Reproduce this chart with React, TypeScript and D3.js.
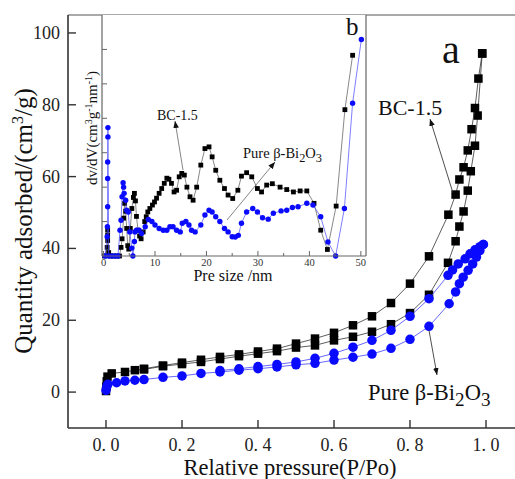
import React, { useEffect, useRef } from 'react';
import * as d3 from 'd3';

// N2 isotherm, BC-1.5 (adsorption / desorption branch)
const bcAdsP = [0, 0.001, 0.002, 0.004, 0.015, 0.05, 0.076, 0.1, 0.15, 0.2, 0.25, 0.3, 0.35, 0.4, 0.45, 0.5, 0.55, 0.6, 0.65, 0.7, 0.75, 0.8, 0.85, 0.9, 0.92, 0.93, 0.941, 0.952, 0.96, 0.971, 0.978, 0.99];
const bcAdsQ = [0.3, 1.5, 3, 4.3, 5.2, 5.6, 6.1, 6.3, 7.2, 7.8, 8.4, 9.2, 10, 10.7, 11.4, 12.4, 13, 14.4, 15.4, 16.8, 18.9, 22, 27.1, 36, 42, 46.1, 50.3, 56.1, 61.5, 68.6, 77, 94.3];
const bcDesP = [0.99, 0.98, 0.971, 0.962, 0.952, 0.941, 0.93, 0.92, 0.901, 0.85, 0.8, 0.75, 0.7, 0.65, 0.6, 0.55, 0.5, 0.45, 0.4, 0.35, 0.3, 0.25, 0.2, 0.15, 0.1];
const bcDesQ = [94.3, 87.3, 79.1, 73.2, 67.3, 62.6, 59.2, 55, 49.4, 37.8, 30.2, 24.8, 21.1, 18.6, 16.5, 14.9, 13.5, 12.1, 11.3, 10.5, 9.8, 9.0, 8.2, 7.4, 6.5];

// N2 isotherm, pure beta-Bi2O3
const biAdsP = [0, 0.002, 0.005, 0.028, 0.05, 0.076, 0.1, 0.15, 0.2, 0.25, 0.3, 0.35, 0.4, 0.45, 0.5, 0.55, 0.6, 0.65, 0.7, 0.75, 0.8, 0.85, 0.903, 0.92, 0.93, 0.94, 0.953, 0.965, 0.975, 0.984, 0.993];
const biAdsQ = [0.5, 1.5, 2.2, 2.6, 3.1, 3.3, 3.5, 4.1, 4.5, 5.2, 5.6, 6.1, 6.5, 7.0, 7.6, 8.0, 8.9, 9.7, 10.6, 12.2, 14.7, 18.3, 24.6, 27.9, 30.2, 32, 33.9, 35.7, 37.6, 39.4, 41.1];
const biDesP = [0.993, 0.984, 0.971, 0.958, 0.945, 0.927, 0.912, 0.9, 0.85, 0.8, 0.75, 0.7, 0.65, 0.6, 0.55, 0.5, 0.45, 0.4, 0.35, 0.3];
const biDesQ = [41.1, 40.5, 39.6, 38.5, 37.1, 35.7, 34, 32.5, 26, 21.1, 17.2, 14.4, 12.5, 10.8, 9.4, 8.4, 7.7, 7.1, 6.5, 6.0];

// pore size distribution (inset b)
const bcSize = [0.2, 0.7, 0.8, 0.8, 0.8, 1.0, 1.4, 2.0, 2.6, 3.1, 3.4, 3.6, 3.9, 4.1, 4.3, 4.5, 4.7, 4.9, 5.2, 5.5, 5.8, 6.0, 6.2, 6.4, 6.7, 7.0, 7.3, 7.7, 8.0, 8.3, 8.6, 9.0, 9.5, 9.9, 10.3, 10.8, 11.3, 11.8, 12.3, 12.7, 13.2, 13.7, 14.2, 14.7, 15.2, 15.7, 16.2, 16.8, 17.4, 18.1, 18.9, 19.7, 20.5, 21.1, 21.8, 22.6, 23.5, 24.2, 25.1, 26.1, 26.8, 27.8, 28.8, 29.9, 30.7, 31.7, 32.8, 34.3, 35.6, 36.9, 38.2, 39.5, 40.9, 42.2, 43.5, 45.2, 46.9, 48.4];
const bcDv = [0, 0.25, 0.45, 0.6, 0.75, 0.1, 0, 0, 0, 0, 0.25, 0.5, 1.1, 1.53, 1.3, 0.8, 0.3, 0.2, 0.8, 1.38, 1.7, 1.82, 1.6, 1.15, 0.75, 0.58, 0.5, 0.7, 1.0, 1.14, 1.28, 1.38, 1.48, 1.57, 1.68, 1.82, 1.96, 2.11, 2.26, 2.23, 2.11, 1.86, 1.91, 2.3, 2.4, 2.35, 2.0, 1.72, 1.62, 2.0, 2.64, 3.12, 3.17, 2.88, 2.49, 2.2, 1.96, 1.77, 1.67, 1.91, 2.32, 2.42, 2.3, 1.96, 1.86, 2.06, 2.1, 2.0, 1.93, 1.86, 1.89, 1.89, 1.53, 0.75, 0.19, 1.45, 4.25, 5.83];
const biSize = [0.3, 0.7, 0.75, 0.8, 0.8, 0.8, 0.85, 0.85, 1.0, 1.6, 2.2, 2.8, 3.2, 3.4, 3.6, 3.8, 3.9, 4.0, 4.3, 4.5, 4.8, 5.1, 5.5, 5.7, 6.0, 6.1, 6.4, 6.9, 7.4, 8.1, 8.7, 9.4, 10.0, 10.8, 11.6, 12.3, 12.9, 13.5, 14.2, 14.9, 15.3, 16.0, 16.6, 17.1, 17.8, 18.9, 19.7, 20.5, 21.1, 21.8, 22.6, 23.5, 24.2, 25.0, 25.6, 26.2, 26.8, 27.8, 29.0, 29.9, 30.9, 32.0, 33.0, 34.5, 35.6, 36.7, 37.8, 39.5, 40.7, 42.2, 43.6, 45.1, 46.8, 48.4, 50.1];
const biDv = [0, 0.56, 0.85, 1.43, 2.25, 2.73, 3.46, 3.73, 0, 0, 0, 0, 0.75, 1.04, 1.72, 2.13, 2.0, 1.82, 1.62, 1.33, 1.28, 0.7, 0.23, 0, 0.42, 0.7, 0.75, 0.75, 0.65, 0.85, 1.06, 1.0, 0.9, 0.8, 0.75, 0.75, 0.85, 0.85, 0.75, 0.7, 0.95, 1.0, 0.9, 0.75, 0.7, 0.9, 1.19, 1.33, 1.28, 1.14, 1.0, 0.8, 0.7, 0.56, 0.55, 0.6, 0.95, 1.28, 1.38, 1.28, 1.11, 1.07, 1.24, 1.31, 1.33, 1.41, 1.43, 1.53, 1.48, 1.14, 0.41, 0, 1.38, 4.44, 6.29];

const xTicks = [0, 0.2, 0.4, 0.6, 0.8, 1.0];
const yTicks = [0, 20, 40, 60, 80, 100];
const insetXTicks = [0, 10, 20, 30, 40, 50];
const insetYTicks = [1, 2, 3, 4, 5, 6];

const W = 515, H = 479;
const serif = '"Liberation Serif", "Times New Roman", serif';
const BLACK = '#000';
const BLUE = '#0a0aff';

function drawSeries(g, xs, ys, sx, sy, color, lineColor, shape, size, lw) {
  const pts = xs.map((v, i) => [sx(v), sy(ys[i])]);
  g.append('path')
    .attr('d', d3.line()(pts))
    .attr('fill', 'none')
    .attr('stroke', lineColor)
    .attr('stroke-width', lw);
  if (shape === 'square') {
    g.selectAll(null).data(pts).enter().append('rect')
      .attr('x', d => d[0] - size / 2)
      .attr('y', d => d[1] - size / 2)
      .attr('width', size)
      .attr('height', size)
      .attr('fill', color);
  } else {
    g.selectAll(null).data(pts).enter().append('circle')
      .attr('cx', d => d[0])
      .attr('cy', d => d[1])
      .attr('r', size / 2)
      .attr('fill', color);
  }
}

function bi2o3(t, size) {
  t.append('tspan').text('Pure β-Bi');
  t.append('tspan').attr('dy', size * 0.25).attr('font-size', size * 0.85).text('2');
  t.append('tspan').attr('dy', -size * 0.25).text('O');
  t.append('tspan').attr('dy', size * 0.25).attr('font-size', size * 0.85).text('3');
}

function drawChart(svg) {
  const defs = svg.append('defs');
  defs.append('marker')
    .attr('id', 'arr')
    .attr('viewBox', '0 0 10 10')
    .attr('refX', 10).attr('refY', 5)
    .attr('markerWidth', 7).attr('markerHeight', 7)
    .attr('markerUnits', 'userSpaceOnUse')
    .attr('orient', 'auto')
    .append('path').attr('d', 'M0,1 L10,5 L0,9 Z').attr('fill', '#111');

  // ---- main plot (a)
  const x = d3.scaleLinear().domain([-0.1, 1.1]).range([68, 524]);
  const y = d3.scaleLinear().domain([-10, 105]).range([428, 15]);
  const axisColor = '#333';

  const main = svg.append('g');
  drawSeries(main, bcAdsP, bcAdsQ, x, y, BLACK, '#333', 'square', 8.5, 0.8);
  drawSeries(main, bcDesP, bcDesQ, x, y, BLACK, '#333', 'square', 8.5, 0.8);
  drawSeries(main, biAdsP, biAdsQ, x, y, BLUE, '#4040ff', 'circle', 9.5, 0.8);
  drawSeries(main, biDesP, biDesQ, x, y, BLUE, '#4040ff', 'circle', 9.5, 0.8);

  svg.append('line').attr('x1', 68).attr('x2', W).attr('y1', 15).attr('y2', 15).attr('stroke', '#555').attr('stroke-width', 1.2);
  svg.append('line').attr('x1', 68).attr('x2', 68).attr('y1', 15).attr('y2', 428).attr('stroke', axisColor).attr('stroke-width', 1.6);
  svg.append('line').attr('x1', 68).attr('x2', W).attr('y1', 428).attr('y2', 428).attr('stroke', axisColor).attr('stroke-width', 1.6);

  xTicks.forEach(v => {
    svg.append('line').attr('x1', x(v)).attr('x2', x(v)).attr('y1', 428).attr('y2', 420).attr('stroke', axisColor).attr('stroke-width', 1.4);
    svg.append('text').attr('x', x(v)).attr('y', 451).attr('text-anchor', 'middle')
      .attr('font-family', serif).attr('font-size', 18).attr('fill', '#222')
      .text(v.toFixed(1).replace('.', '. '));
  });
  yTicks.forEach(v => {
    svg.append('line').attr('x1', 68).attr('x2', 76).attr('y1', y(v)).attr('y2', y(v)).attr('stroke', axisColor).attr('stroke-width', 1.4);
    svg.append('text').attr('x', 60).attr('y', y(v) + 6).attr('text-anchor', 'end')
      .attr('font-family', serif).attr('font-size', 18).attr('fill', '#222')
      .text(v);
  });

  svg.append('text').attr('x', 290).attr('y', 475).attr('text-anchor', 'middle')
    .attr('font-family', serif).attr('font-size', 22.5).attr('fill', '#111')
    .text('Relative pressure(P/Po)');

  const yl = svg.append('text').attr('transform', 'translate(32,221) rotate(-90)').attr('text-anchor', 'middle')
    .attr('font-family', serif).attr('font-size', 25).attr('fill', '#111');
  yl.append('tspan').text('Quantity adsorbed/(cm');
  yl.append('tspan').attr('dy', -9).attr('font-size', 16).text('3');
  yl.append('tspan').attr('dy', 9).text('/g)');

  svg.append('text').attr('x', 442).attr('y', 63).attr('font-family', serif).attr('font-size', 40).attr('fill', '#111').text('a');
  svg.append('text').attr('x', 378).attr('y', 115).attr('font-family', serif).attr('font-size', 22).attr('fill', '#111').text('BC-1.5');
  bi2o3(svg.append('text').attr('x', 368).attr('y', 400).attr('font-family', serif).attr('font-size', 22.5).attr('fill', '#111'), 22.5);

  svg.append('line').attr('x1', 453).attr('y1', 193).attr('x2', 430).attr('y2', 119)
    .attr('stroke', '#222').attr('stroke-width', 0.8).attr('marker-end', 'url(#arr)');
  svg.append('line').attr('x1', x(0.85)).attr('y1', y(18.3) + 4).attr('x2', 437).attr('y2', 375)
    .attr('stroke', '#222').attr('stroke-width', 0.8).attr('marker-end', 'url(#arr)');

  // ---- inset (b)
  const ix = d3.scaleLinear().domain([-0.3, 51]).range([102, 366]);
  const iy = d3.scaleLinear().domain([0, 7]).range([256, 15]);
  const inset = svg.append('g');
  inset.append('rect').attr('x', 102).attr('y', 15).attr('width', 264).attr('height', 241).attr('fill', '#fff');

  drawSeries(inset, bcSize, bcDv, ix, iy, BLACK, '#555', 'square', 4.8, 0.7);
  drawSeries(inset, biSize, biDv, ix, iy, BLUE, '#4848ff', 'circle', 5.4, 0.7);

  const ic = '#666';
  inset.append('line').attr('x1', 102).attr('x2', 102).attr('y1', 15).attr('y2', 256).attr('stroke', ic).attr('stroke-width', 1.2);
  inset.append('line').attr('x1', 366).attr('x2', 366).attr('y1', 15).attr('y2', 256).attr('stroke', ic).attr('stroke-width', 1.2);
  inset.append('line').attr('x1', 102).attr('x2', 366).attr('y1', 256).attr('y2', 256).attr('stroke', ic).attr('stroke-width', 1.2);

  insetXTicks.forEach(v => {
    inset.append('line').attr('x1', ix(v)).attr('x2', ix(v)).attr('y1', 256).attr('y2', 251).attr('stroke', ic);
    if (v < 50) inset.append('line').attr('x1', ix(v + 5)).attr('x2', ix(v + 5)).attr('y1', 256).attr('y2', 253).attr('stroke', ic);
    inset.append('text').attr('x', ix(v)).attr('y', 266).attr('text-anchor', 'middle')
      .attr('font-family', serif).attr('font-size', 10.5).attr('fill', '#333').text(v);
  });
  insetYTicks.forEach(v => {
    inset.append('line').attr('x1', 102).attr('x2', 107).attr('y1', iy(v)).attr('y2', iy(v)).attr('stroke', ic);
  });

  inset.append('text').attr('x', 233).attr('y', 281).attr('text-anchor', 'middle')
    .attr('font-family', serif).attr('font-size', 16).attr('fill', '#111').text('Pre size /nm');

  const il = inset.append('text').attr('transform', 'translate(97,128) rotate(-90)').attr('text-anchor', 'middle')
    .attr('font-family', serif).attr('font-size', 15).attr('fill', '#111');
  il.append('tspan').text('dv/dV(cm');
  il.append('tspan').attr('dy', -5).attr('font-size', 10).text('3');
  il.append('tspan').attr('dy', 5).text('g');
  il.append('tspan').attr('dy', -5).attr('font-size', 10).text('-1');
  il.append('tspan').attr('dy', 5).text('nm');
  il.append('tspan').attr('dy', -5).attr('font-size', 10).text('-1');
  il.append('tspan').attr('dy', 5).text(')');

  inset.append('text').attr('x', 346).attr('y', 35).attr('font-family', serif).attr('font-size', 25).attr('fill', '#111').text('b');
  inset.append('text').attr('x', 157).attr('y', 120).attr('font-family', serif).attr('font-size', 14).attr('fill', '#111').text('BC-1.5');
  bi2o3(inset.append('text').attr('x', 243).attr('y', 158).attr('font-family', serif).attr('font-size', 14.5).attr('fill', '#111'), 14.5);

  inset.append('line').attr('x1', 183).attr('y1', 170).attr('x2', 175).attr('y2', 121)
    .attr('stroke', '#333').attr('stroke-width', 0.6).attr('marker-end', 'url(#arr)');
  inset.append('line').attr('x1', 227).attr('y1', 220).attr('x2', 275).attr('y2', 162)
    .attr('stroke', '#333').attr('stroke-width', 0.6).attr('marker-end', 'url(#arr)');
}

export default function App() {
  const ref = useRef(null);

  useEffect(() => {
    const svg = d3.select(ref.current);
    svg.selectAll('*').remove();
    drawChart(svg);
  }, []);

  return (
    <svg ref={ref} width={W} height={H}
      style={{ position: 'absolute', left: 0, top: 0, background: '#fff' }} />
  );
}
